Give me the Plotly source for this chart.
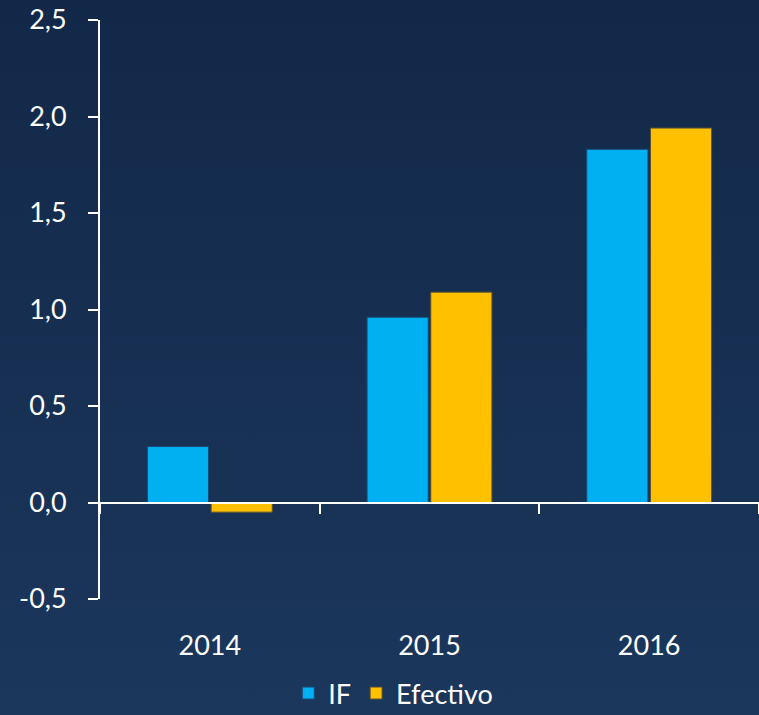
import plotly.graph_objects as go
import base64

years = ["2014", "2015", "2016"]
if_vals = [0.29, 0.96, 1.83]
efectivo_vals = [-0.05, 1.09, 1.94]
y_ticks = [-0.5, 0.0, 0.5, 1.0, 1.5, 2.0, 2.5]
y_ticktext = ["-0,5", "0,0", "0,5", "1,0", "1,5", "2,0", "2,5"]

svg = ('<svg xmlns="http://www.w3.org/2000/svg" width="10" height="100" preserveAspectRatio="none">'
       '<defs><linearGradient id="g" x1="0" y1="0" x2="0" y2="1">'
       '<stop offset="0" stop-color="#122848"/><stop offset="1" stop-color="#1b375c"/>'
       '</linearGradient></defs><rect width="10" height="100" fill="url(#g)"/></svg>')
src = "data:image/svg+xml;base64," + base64.b64encode(svg.encode()).decode()

font = dict(family="Lato, Open Sans, sans-serif", color="white", size=27)

fig = go.Figure()
fig.add_trace(go.Bar(x=years, y=if_vals, name="IF",
                     marker=dict(color="#00B0F0", line=dict(color="#1a4a78", width=1))))
fig.add_trace(go.Bar(x=years, y=efectivo_vals, name="Efectivo",
                     marker=dict(color="#FFC000", line=dict(color="#5a5030", width=1))))
# invisible helper trace so the zero-line axis has categories
fig.add_trace(go.Scatter(x=years, y=[0, 0, 0], xaxis="x2", mode="markers",
                         marker=dict(opacity=0), showlegend=False, hoverinfo="skip"))

W, H = 759, 715
l, r, t, b = 100, 0, 20, 116
pw, ph = W - l - r, H - t - b

fig.update_layout(
    width=W, height=H,
    margin=dict(l=l, r=r, t=t, b=b, autoexpand=False),
    paper_bgcolor="#17305a",
    plot_bgcolor="rgba(0,0,0,0)",
    font=font,
    separators=",.",
    barmode="group",
    bargap=0.42,
    bargroupgap=0.04,
    images=[dict(source=src, xref="paper", yref="paper",
                 x=-l / pw, y=1 + t / ph, sizex=W / pw, sizey=H / ph,
                 sizing="stretch", layer="below", xanchor="left", yanchor="top")],
    xaxis=dict(range=[-0.5, 2.5], showline=False, showgrid=False, zeroline=False,
               ticks="", ticklabelstandoff=28, tickfont=font),
    xaxis2=dict(overlaying="x", range=[-0.5, 2.5], anchor="free", position=0.5 / 3,
                showline=True, linecolor="white", linewidth=2,
                ticks="outside", tickson="boundaries", ticklen=10, tickcolor="white",
                tickwidth=2, showticklabels=False, showgrid=False, zeroline=False,
                categoryorder="array", categoryarray=years),
    yaxis=dict(range=[-0.5, 2.5], tickvals=y_ticks, ticktext=y_ticktext,
               showline=True, linecolor="white", linewidth=2,
               ticks="outside", ticklen=10, tickcolor="white", tickwidth=2,
               showgrid=False, zeroline=False, ticklabelstandoff=16, tickfont=font),
    legend=dict(orientation="h", x=0.445, xanchor="center", y=-(b + 3) / ph, yanchor="bottom",
                font=font, bgcolor="rgba(0,0,0,0)", itemwidth=30, traceorder="normal"),
    showlegend=True,
)

fig.write_html("out.html", config={"displayModeBar": False},
               post_script="document.body.style.margin='0';document.body.style.padding='0';")
